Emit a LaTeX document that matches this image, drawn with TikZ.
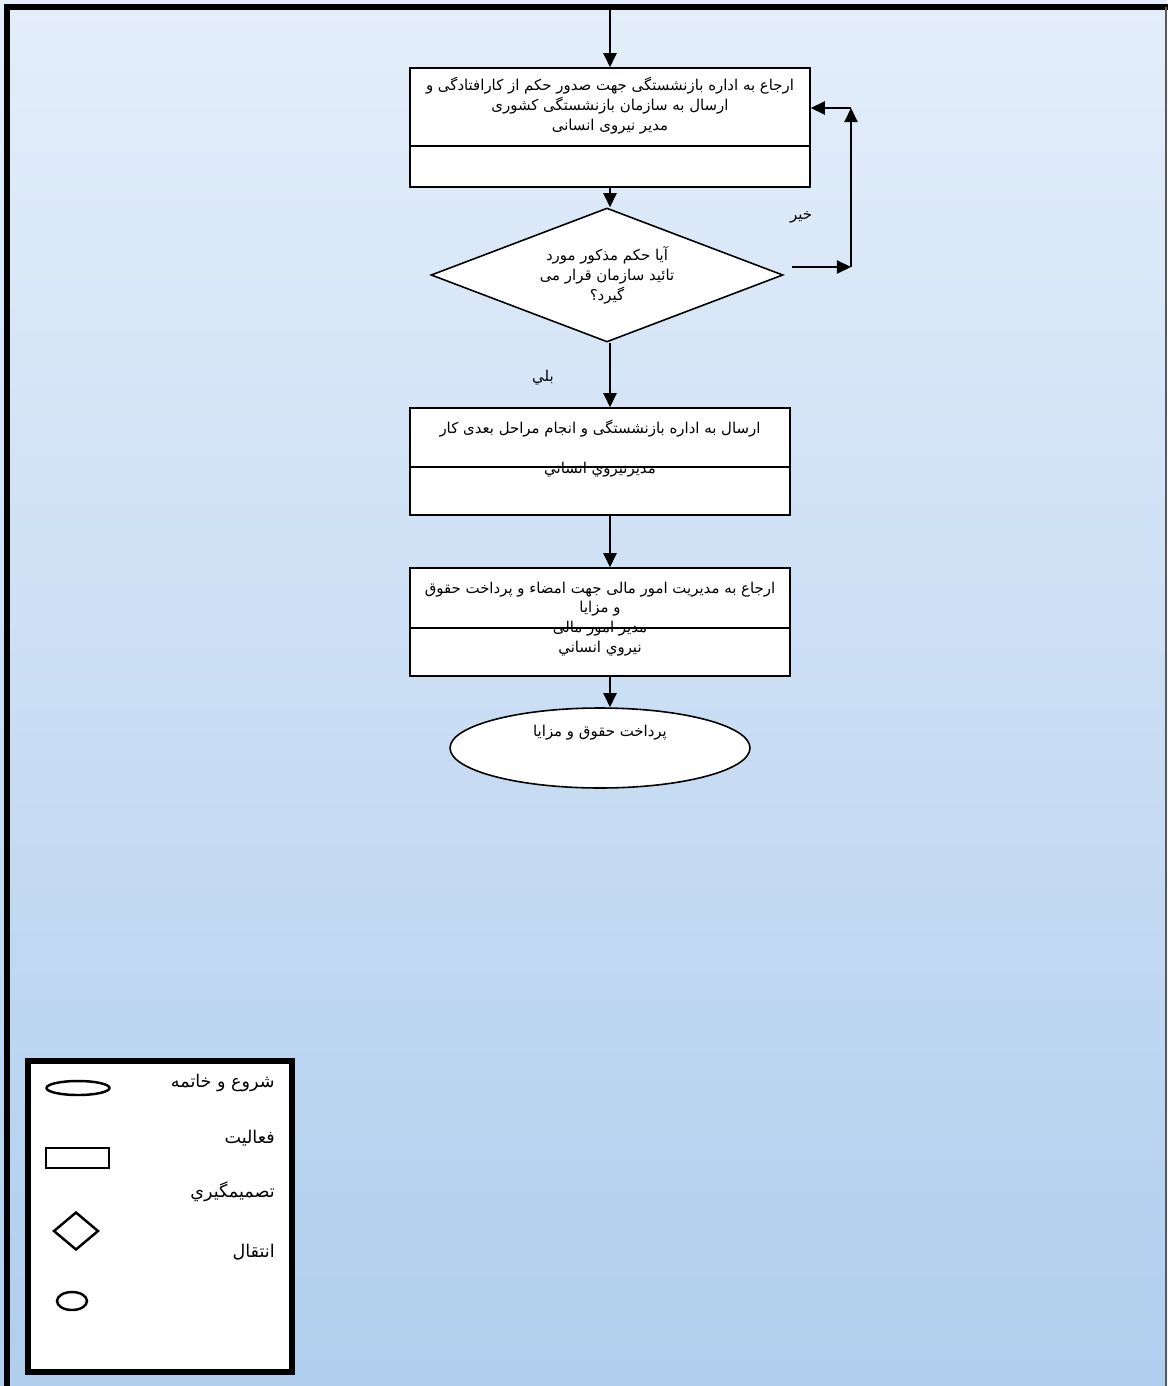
\documentclass[tikz,border=0pt]{standalone}
\usepackage{fontspec}
\usetikzlibrary{shapes.geometric,arrows.meta,positioning}
\TeXXeTstate=1
\newfontfamily\arabicfont[Script=Arabic]{DejaVu Sans}
\newcommand{\rtltext}[1]{\beginR#1\endR}
\definecolor{bgtop}{RGB}{228,238,250}
\definecolor{bgbottom}{RGB}{176,206,238}
\begin{document}
\begin{tikzpicture}[x=0.02cm,y=-0.02cm,
	every node/.style={align=center,inner sep=0pt,font=\arabicfont\fontsize{8.5}{11.3}\selectfont},
	actbox/.style={draw,fill=white,line width=0.9pt},
	decision/.style={diamond,draw,fill=white,line width=0.9pt,aspect=2.63,minimum width=7.04cm,minimum height=2.68cm},
	terminal/.style={ellipse,draw,fill=white,line width=0.9pt,minimum width=6cm,minimum height=1.6cm},
	legendshape/.style={draw,line width=1.4pt},
	legendtext/.style={anchor=east,font=\arabicfont\fontsize{10}{12}\selectfont},
	arr/.style={-{Triangle[length=8pt,width=7.5pt]},line width=0.9pt}]
	\useasboundingbox (0,0) rectangle (1167,1386);
	\shade[top color=bgtop,bottom color=bgbottom] (0,0) rectangle (1167,1386);
	\draw[line width=3.5pt,line cap=rect] (7,1390) -- (7,7) -- (1170,7);
	\draw[gray!70!black,line width=0.6pt] (1166,7) -- (1166,1386);

	\coordinate (start) at (610,10);
	\node[actbox,minimum width=8cm,minimum height=2.38cm] (act1) at (610,127.5) {};
	\node[below=0.2cm of act1.north] (act1txt) {\rtltext{ارجاع به اداره بازنشستگی جهت صدور حکم از کارافتادگی و}\\
		\rtltext{ارسال به سازمان بازنشستگی کشوری}\\
		\rtltext{مدیر نیروی انسانی}};
	\draw[line width=0.9pt] ([yshift=-1.58cm]act1.north west) -- ([yshift=-1.58cm]act1.north east);

	\node[decision] (dec1) at (607,275) {\rtltext{آیا حکم مذکور مورد}\\
		\rtltext{تائید سازمان قرار می}\\
		\rtltext{گیرد؟}};

	\node[actbox,minimum width=7.6cm,minimum height=2.14cm] (act2) at (600,461.5) {};
	\node[below=0.26cm of act2.north] (act2txt) {\rtltext{ارسال به اداره بازنشستگی و انجام مراحل بعدی کار}};
	\node at (600,470) (act2who) {\rtltext{مدیرنیروي انساني}};
	\draw[line width=0.9pt] ([yshift=-1.2cm]act2.north west) -- ([yshift=-1.2cm]act2.north east);

	\node[actbox,minimum width=7.6cm,minimum height=2.16cm] (act3) at (600,622) {};
	\node at (600,619) (act3txt) {\rtltext{ارجاع به مدیریت امور مالی جهت امضاء و پرداخت حقوق}\\
		\rtltext{و مزایا}\\
		\rtltext{مدیر امور مالی}\\
		\rtltext{نیروي انساني}};
	\draw[line width=0.9pt] ([yshift=-1.22cm]act3.north west) -- ([yshift=-1.22cm]act3.north east);

	\node[terminal] (end1) at (600,748) {\rtltext{پرداخت حقوق و مزایا}\\[0.3cm]};

	\draw[arr] (start) -- (act1.north);
	\draw[arr] (act1.south) -- (act1.south |- dec1.north);
	\draw[arr] (act1.south |- dec1.south) -- (act1.south |- act2.north);
	\draw[arr] (act2.south -| act1) -- (act3.north -| act1);
	\draw[arr] (act3.south -| act1) -- (end1.north -| act1);

	\coordinate (noout) at ([shift={(8,-8)}]dec1.east);
	\coordinate (nocorner) at (851,267);
	\coordinate (notop) at (851,108);
	\draw[arr] (noout) -- (nocorner);
	\draw[arr] (nocorner) -- (notop);
	\draw[arr] (notop) -- (act1.east |- notop);
	\node (nolbl) at (801,217) {\rtltext{خیر}};
	\node (yeslbl) at (543,378) {\rtltext{بلي}};

	\node[draw,fill=white,line width=3.4pt,minimum width=5.28cm,minimum height=6.22cm] (legend) at (160,1216.5) {};
	\node[legendshape,ellipse,minimum width=1.26cm,minimum height=0.28cm] (lgterm) at (78,1088) {};
	\node[legendshape,rectangle,minimum width=1.26cm,minimum height=0.4cm] (lgact) at (77.5,1158) {};
	\node[legendshape,diamond,minimum width=0.9cm,minimum height=0.76cm] (lgdec) at (76,1231) {};
	\node[legendshape,ellipse,minimum width=0.6cm,minimum height=0.36cm] (lgcon) at (72,1301) {};
	\node[legendtext] (lgtermtxt) at (275,1083) {\rtltext{شروع و خاتمه}};
	\node[legendtext] (lgacttxt) at (275,1138) {\rtltext{فعالیت}};
	\node[legendtext] (lgdectxt) at (275,1192) {\rtltext{تصمیمگیري}};
	\node[legendtext] (lgcontxt) at (275,1252) {\rtltext{انتقال}};
\end{tikzpicture}
\end{document}
